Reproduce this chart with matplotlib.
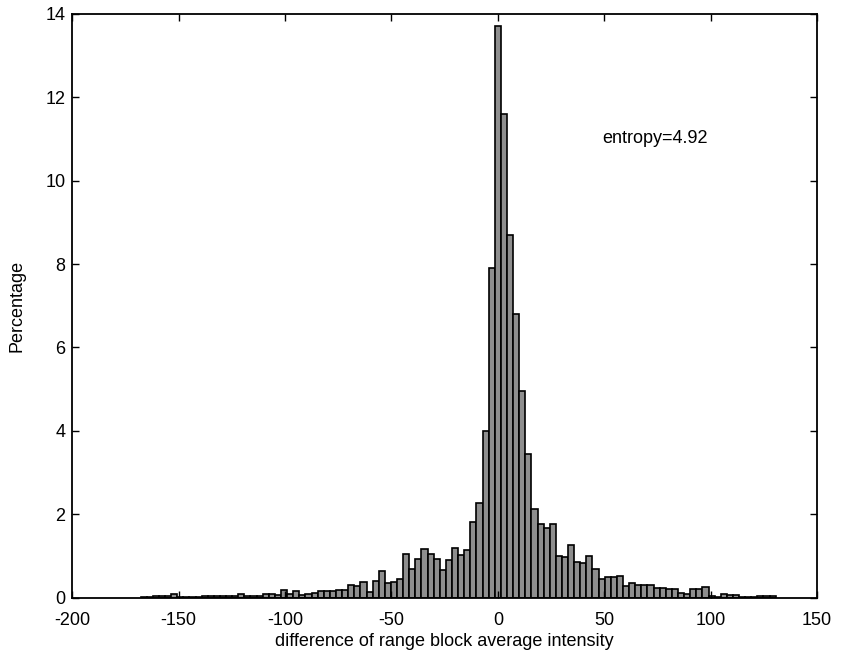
import numpy as np
import matplotlib
matplotlib.use("Agg")
import matplotlib.pyplot as plt

# histogram of block average differences, bin width about 2.87
bin_width = 2.87
# bar heights (percentage) from the left tail to the right tail
left_tail = [0.01, 0.02, 0.03, 0.04, 0.04, 0.09, 0.02, 0.01, 0.02, 0.02,
             0.03, 0.03, 0.03, 0.04, 0.04, 0.05, 0.08, 0.04, 0.03, 0.03,
             0.10, 0.10, 0.07, 0.18,
             0.10, 0.15, 0.06, 0.08, 0.12, 0.15, 0.17, 0.17, 0.18, 0.18,
             0.30, 0.27, 0.38, 0.13]
middle = [0.40, 0.64, 0.36, 0.37, 0.46, 1.04, 0.70, 0.92, 1.18, 1.04,
          0.92, 0.67, 0.90, 1.20, 1.03, 1.15, 1.82, 2.28, 4.0, 7.9,
          13.7, 11.6, 8.7, 6.8, 4.95, 3.45, 2.12, 1.76, 1.67, 1.76,
          1.0, 0.97, 1.27]
right_tail = [0.85, 0.84, 1.01, 0.69, 0.44, 0.49, 0.49, 0.53, 0.28, 0.36,
              0.30, 0.30, 0.31, 0.23, 0.23, 0.22, 0.20, 0.12, 0.10, 0.20,
              0.20, 0.26, 0.03, 0.02, 0.10, 0.07, 0.06, 0.02, 0.01, 0.02,
              0.03, 0.03, 0.03]

heights = np.array(left_tail + middle + right_tail)
peak_idx = len(left_tail) + 20
centers = (np.arange(len(heights)) - peak_idx) * bin_width

entropy_text = "entropy=4.92"
xticks = [-200, -150, -100, -50, 0, 50, 100, 150]
yticks = [0, 2, 4, 6, 8, 10, 12, 14]

plt.rcParams["font.family"] = ["Liberation Sans", "DejaVu Sans"]
plt.rcParams["font.size"] = 13
plt.rcParams["axes.unicode_minus"] = False

fig = plt.figure(figsize=(8.44, 6.64), dpi=100)
ax = fig.add_axes([0.0856, 0.0998, 0.8824, 0.8795])

ax.bar(centers, heights, width=bin_width, color="#8e8e8e",
       edgecolor="black", linewidth=1.2)

ax.set_xlim(-200, 150)
ax.set_ylim(0, 14)
ax.set_xticks(xticks)
ax.set_yticks(yticks)
ax.tick_params(direction="in", top=True, right=True, length=5, width=1)
ax.tick_params(axis="x", pad=10)
ax.tick_params(axis="y", pad=5)
for s in ax.spines.values():
    s.set_linewidth(1.3)

ax.text(49, 11.0, entropy_text, ha="left", va="center", fontsize=13)
ax.set_xlabel("difference of range block average intensity", labelpad=3)
ax.set_ylabel("Percentage", labelpad=14)

fig.savefig("out.png", dpi=100)
